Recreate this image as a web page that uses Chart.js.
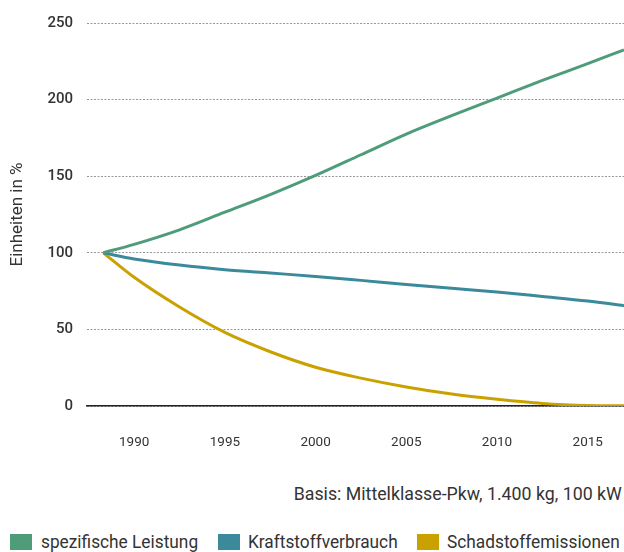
<!DOCTYPE html>
<html>
<head>
<meta charset="utf-8">
<script src="https://cdn.jsdelivr.net/npm/chart.js@4/dist/chart.umd.min.js"></script>
<style>
  body { margin: 0; background: #fff; }
  #wrap { position: relative; width: 624px; height: 552px; font-family: Roboto, sans-serif; color: #333; }
  #chart { position: absolute; left: 0; top: 0; }
  .note { position: absolute; right: 2px; top: 483px; font-size: 18.5px; transform: scaleX(0.96); transform-origin: right center; white-space: nowrap; }
  .legend span.item { position: absolute; top: 531px; font-size: 18px; white-space: nowrap; transform: scaleX(0.96); transform-origin: left center; }
  .legend i { position: absolute; top: 534px; width: 22px; height: 16px; }
</style>
</head>
<body>
<div id="wrap">
  <canvas id="chart" width="624" height="470"></canvas>
  <div class="note">Basis: Mittelklasse-Pkw, 1.400 kg, 100 kW</div>
  <div class="legend" id="legend"></div>
</div>
<script>
/* data */
const years = [1988.3, 1990, 1992.5, 1995, 1997.5, 2000, 2002.5, 2005, 2007.5, 2010, 2012.5, 2015, 2017];
const leistung = [100, 105.5, 115, 126.5, 138, 150.5, 164, 177.5, 189.5, 201, 212.5, 223.5, 232.5];
const verbrauch = [100, 96, 92, 89, 86.8, 84.6, 82, 79.3, 76.8, 74.4, 71.5, 68.5, 65.5];
const emissionen = [100, 84, 64.6, 48, 35.4, 25.3, 18.2, 12.4, 7.8, 4.4, 1.7, 0.4, 0.2];
const xTicks = [1990, 1995, 2000, 2005, 2010, 2015];
const seriesNames = ['spezifische Leistung', 'Kraftstoffverbrauch', 'Schadstoffemissionen'];
const colors = ['#4f9c7a', '#3b8a9b', '#c9a100'];

function points(values) {
    return values.map((v, i) => ({ x: years[i], y: v }));
}

const chart = new Chart(document.getElementById('chart'), {
    type: 'line',
    data: {
        datasets: [leistung, verbrauch, emissionen].map((vals, i) => ({
            label: seriesNames[i],
            data: points(vals),
            borderColor: colors[i],
            backgroundColor: colors[i],
            borderWidth: 3,
            pointRadius: 0,
            cubicInterpolationMode: 'monotone'
        }))
    },
    options: {
        responsive: false,
        animation: false,
        layout: { padding: { top: 22, left: 0, right: 0, bottom: 0 } },
        plugins: {
            legend: { display: false },
            tooltip: { enabled: false }
        },
        scales: {
            x: {
                type: 'linear',
                min: 1987.4,
                max: 2017,
                afterBuildTicks: (scale) => { scale.ticks = xTicks.map(v => ({ value: v })); },
                afterFit: (scale) => {
                    scale.height = 64;
                    scale.paddingLeft = 0;
                    scale.paddingRight = 0;
                },
                grid: { display: false, drawTicks: false },
                border: { display: true, color: '#222', width: 1.5 },
                ticks: {
                    padding: 29,
                    color: '#333',
                    font: { family: 'Roboto', size: 13.5 },
                    callback: (v) => String(v)
                }
            },
            y: {
                min: 0,
                max: 250,
                afterFit: (scale) => { scale.width = 87; },
                grid: {
                    drawTicks: false,
                    color: '#999',
                    lineWidth: 1
                },
                border: { display: false, dash: [2, 1.5] },
                ticks: {
                    stepSize: 50,
                    padding: 14,
                    color: '#333',
                    font: { family: 'Roboto', size: 15, weight: '500' }
                },
                title: {
                    display: true,
                    text: 'Einheiten in %',
                    color: '#333',
                    font: { family: 'Roboto', size: 17 },
                    padding: { top: 8, bottom: 0 }
                }
            }
        }
    }
});

/* legend */
const boxX = [10, 218, 417];
const textX = [41, 248, 447];
const legendEl = document.getElementById('legend');
seriesNames.forEach((name, i) => {
    const box = document.createElement('i');
    box.style.left = boxX[i] + 'px';
    box.style.background = colors[i];
    legendEl.appendChild(box);
    const s = document.createElement('span');
    s.className = 'item';
    s.style.left = textX[i] + 'px';
    s.textContent = name;
    legendEl.appendChild(s);
});
</script>
</body>
</html>
